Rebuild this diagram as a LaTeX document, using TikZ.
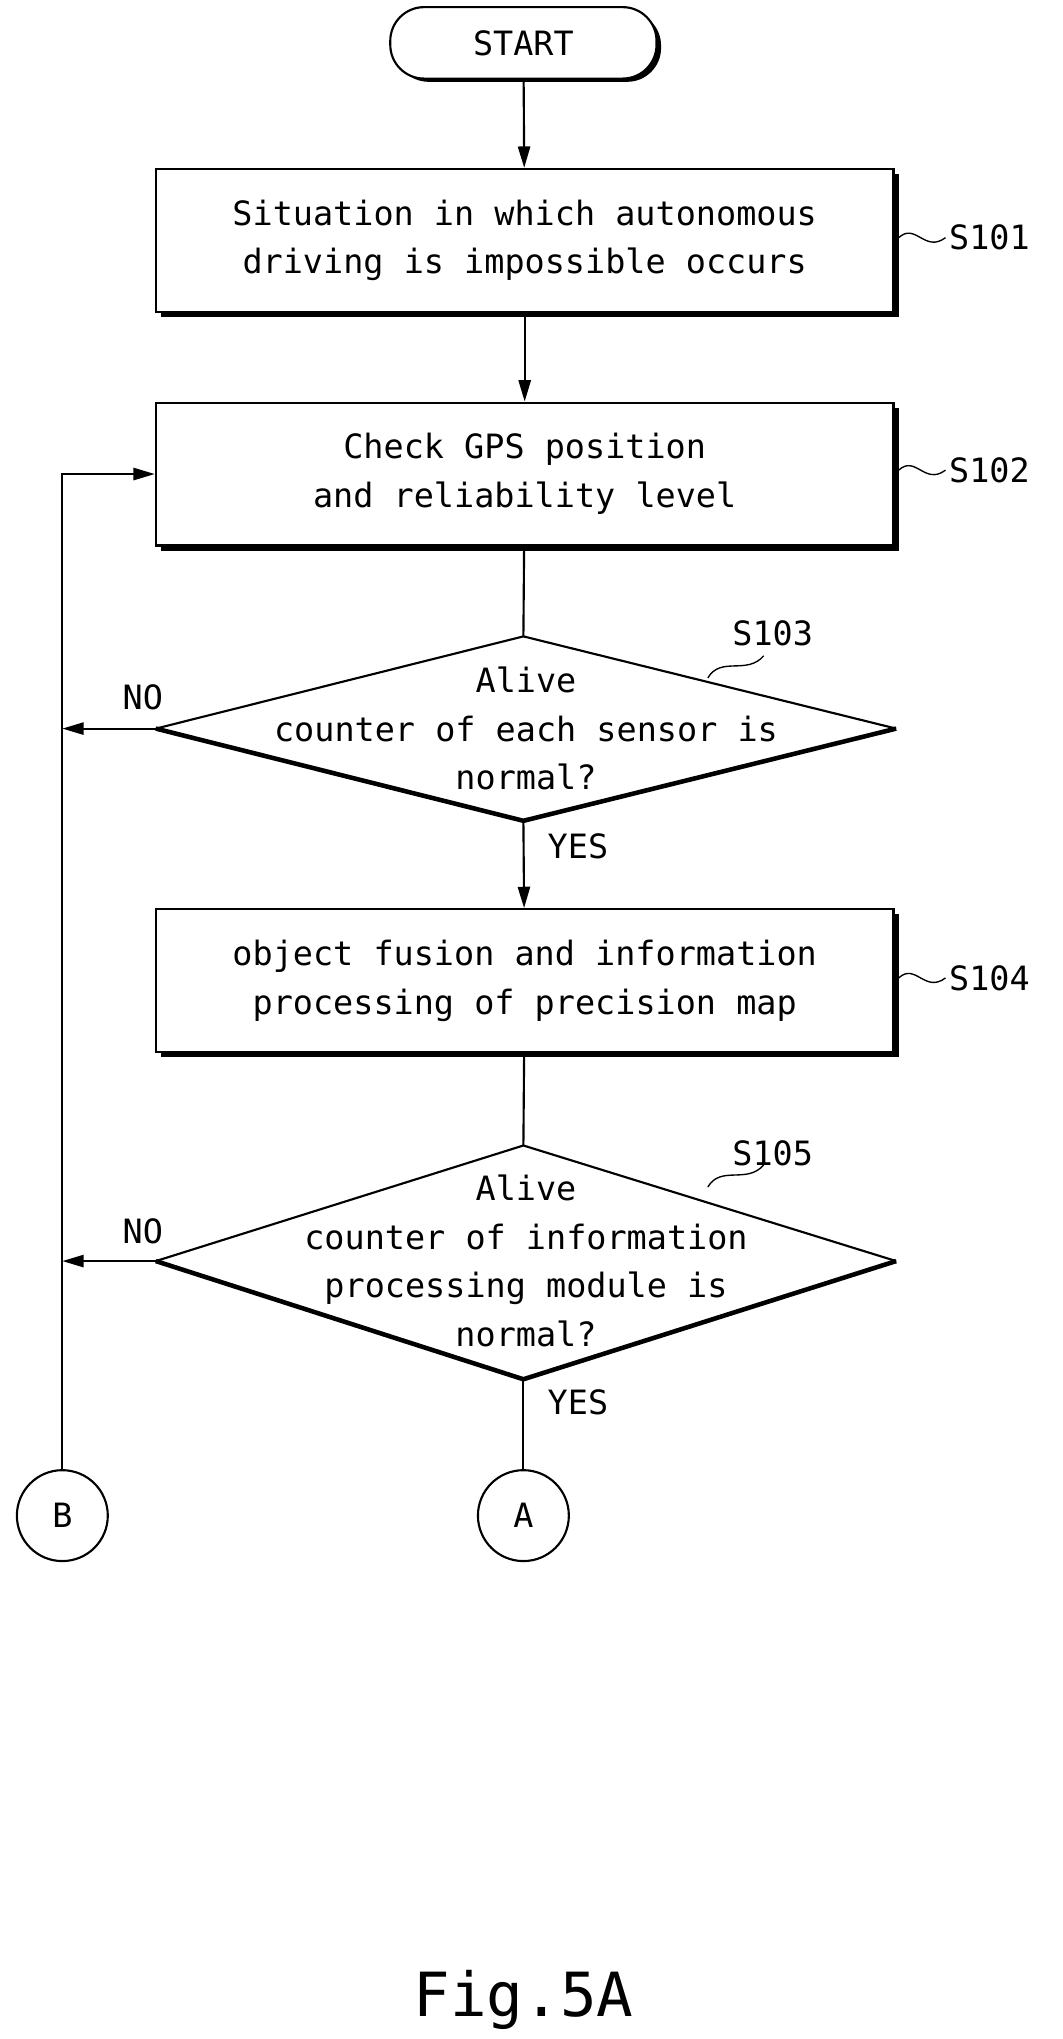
\documentclass[tikz,border=0pt]{standalone}
\usepackage{fontspec}
\setmainfont{DejaVu Sans Mono}
\usetikzlibrary{arrows.meta}
\begin{document}
\begin{tikzpicture}[x=0.03cm,y=-0.03cm,
  line width=1.4pt,
  arr/.style={-{Triangle[length=14pt,width=8pt]}},
  txt/.style={font=\fontsize{22}{32}\selectfont,align=center,inner sep=0},
  lab/.style={font=\fontsize{22}{26}\selectfont,inner sep=0},
  box/.style={draw,fill=white,minimum width=568*0.03cm,minimum height=110*0.03cm,inner sep=0,
     txt}]
\useasboundingbox (0,0) rectangle (818,1570);
% START
\fill[black,rounded corners=26*0.03cm] (304,9) rectangle (509,63);
\node[draw,fill=white,rounded corners=26*0.03cm,minimum width=205*0.03cm,minimum height=55*0.03cm,txt] (st) at (403,33) {START};
% boxes with shadows
\foreach \y in {185,365,755}{\fill (124,\y-51) rectangle (692,\y+59);}
\node[box] (b1) at (404,185) {Situation in which autonomous\\driving is impossible occurs};
\node[box] (b2) at (404,365) {Check GPS position\\and reliability level};
\node[box] (b3) at (404,755) {object fusion and information\\processing of precision map};
% diamonds
\coordinate (d1t) at (403,490); \coordinate (d1b) at (403,632);
\coordinate (d1l) at (120,561); \coordinate (d1r) at (690,561);
\coordinate (d2t) at (403,882); \coordinate (d2b) at (403,1062);
\coordinate (d2l) at (120,971); \coordinate (d2r) at (690,971);
\draw[line width=3pt] (d1l) -- (d1b) -- (d1r);
\draw (d1l) -- (d1t) -- (d1r);
\draw[line width=3pt] (d2l) -- (d2b) -- (d2r);
\draw (d2l) -- (d2t) -- (d2r);
\node[txt] (d1) at (405,561) {Alive\\counter of each sensor is\\normal?};
\node[txt] (d2) at (405,971) {Alive\\counter of information\\processing module is\\normal?};
% circles
\node[draw,circle,minimum size=70*0.03cm,inner sep=0,txt] (cb) at (48,1167) {B};
\node[draw,circle,minimum size=70*0.03cm,inner sep=0,txt] (ca) at (403,1167) {A};
% connectors
\draw[arr] (st) -- (b1);
\draw[arr] (b1) -- (b2);
\draw (b2) -- (d1t);
\draw[arr] (d1b) -- (b3);
\draw (b3) -- (d2t);
\draw (d2b) -- (ca);
\coordinate (lt) at (48,365);
\draw[arr] (cb) -- (lt) -- (b2.west);
\draw[arr] (d1l) -- (48,561);
\draw[arr] (d2l) -- (48,971);
% labels
\node[lab] (no1) at (110,537) {NO};
\node[lab] (no2) at (110,948) {NO};
\node[lab] (y1) at (445,652) {YES};
\node[lab] (y2) at (445,1080) {YES};
\foreach \y/\s in {183/S101,362/S102,753/S104}{
  \draw[line width=0.9pt] (692,\y) .. controls (705,\y-12) and (712,\y+12) .. (728,\y);
  \node[lab,anchor=west] at (730,\y) {\s};}
\draw[line width=0.9pt] (545,522) .. controls (555,505) and (575,520) .. (588,505);
\node[lab] (s103) at (595,488) {S103};
\draw[line width=0.9pt] (545,914) .. controls (555,897) and (575,912) .. (588,897);
\node[lab] (s105) at (595,888) {S105};
\node[font=\fontsize{40}{44}\selectfont] (fig) at (403,1540) {Fig.5A};
\end{tikzpicture}
\end{document}
